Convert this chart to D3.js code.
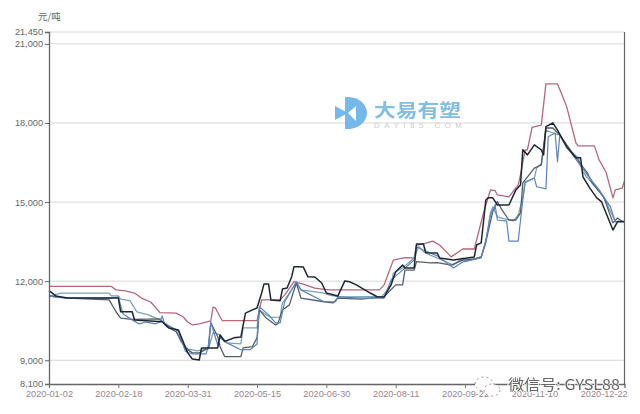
<!DOCTYPE html>
<html><head><meta charset="utf-8">
<script src="https://cdnjs.cloudflare.com/ajax/libs/d3/7.8.5/d3.min.js"></script>
<style>html,body{margin:0;padding:0;background:#fff}svg{display:block}</style>
</head><body><svg id="c" width="640" height="414"></svg>
<script>
const tickDays=[0,30,60,90,120,150,180,210,240];
const tickDates=["2020-01-02","2020-02-18","2020-03-31","2020-05-15","2020-06-30","2020-08-11","2020-09-22","2020-11-10","2020-12-22"];
const yTicks=[8100,9000,12000,15000,18000,21000,21450];
const unitLabel="元/吨";
const seriesRed=[[0,11800],[27,11800],[29,11670],[33,11630],[37,11550],[40,11360],[44,11210],[48,10810],[55,10790],[58,10650],[60,10450],[62,10340],[65,10380],[70,10490],[71,11020],[72,10980],[74,10650],[75,10500],[90,10500],[91,10910],[92,11290],[100,11290],[102,11480],[106,11980],[110,11890],[115,11740],[121,11670],[143,11670],[145,11860],[149,12800],[154,12890],[158,12880],[159,13370],[162,13410],[166,13520],[169,13370],[174,12920],[179,13220],[184,13220],[188,14590],[191,15460],[193,15430],[194,15270],[199,15200],[203,15650],[204,16030],[206,16980],[207,16980],[209,17830],[213,17920],[215,19480],[220,19480],[222,19060],[224,18610],[228,17240],[229,17130],[236,17130],[238,16600],[241,16140],[244,15160],[245,15460],[248,15530],[249,15800]];
const seriesTeal=[[0,11410],[5,11550],[26,11550],[27,11440],[30,11440],[31,11320],[35,11260],[38,10840],[43,10720],[48,10530],[50,10410],[55,10150],[57,9710],[60,9430],[64,9360],[69,9430],[71,10050],[74,9960],[77,9660],[83,9620],[84,10230],[90,10230],[91,10910],[94,10720],[96,10630],[100,10640],[101,11170],[104,11550],[107,11940],[109,11670],[119,11550],[121,11480],[126,11400],[140,11410],[144,11410],[148,11860],[149,12310],[153,12500],[158,12880],[160,13310],[162,13120],[165,12990],[169,12840],[175,12610],[179,12880],[180,12740],[187,12920],[189,13450],[191,14590],[192,14810],[194,14440],[197,14360],[201,14290],[203,14510],[205,15160],[206,15770],[210,15910],[211,16290],[213,16450],[215,17730],[218,17620],[221,17540],[224,17050],[229,16680],[231,16150],[233,15910],[238,15460],[241,15020],[245,14260],[249,14260]];
const seriesGray=[[0,11440],[8,11360],[26,11290],[29,10840],[31,10600],[36,10550],[48,10570],[51,10270],[55,10080],[59,9470],[62,9280],[65,9280],[69,9470],[70,10420],[73,9890],[74,9520],[76,9140],[83,9140],[84,9470],[88,9520],[90,9850],[91,10910],[94,10600],[98,10340],[99,10380],[101,10910],[104,11100],[107,11930],[109,11360],[119,11220],[123,11180],[125,11360],[135,11320],[145,11410],[150,11860],[153,11860],[154,12420],[158,12420],[159,12740],[165,12690],[168,12700],[174,12610],[179,12800],[184,12840],[187,12920],[189,13500],[192,14640],[194,15020],[196,14700],[199,14320],[202,14320],[204,14590],[205,15730],[210,16290],[213,16410],[215,17810],[218,17810],[221,17540],[228,16680],[233,16100],[235,15720],[240,15190],[244,14210],[246,14400],[248,14260],[249,14260]];
const seriesBlue=[[0,11480],[2,11400],[8,11360],[26,11360],[30,11400],[32,10760],[36,10530],[39,10380],[42,10450],[46,10380],[48,10450],[49,10680],[50,10380],[56,10110],[59,9340],[62,9240],[68,9240],[69,9590],[70,10460],[71,10150],[73,9590],[74,9850],[77,9660],[83,9400],[87,9400],[90,9620],[91,11030],[95,10720],[98,10420],[100,10420],[102,11220],[107,11980],[109,11670],[119,11220],[124,11220],[125,11410],[135,11360],[145,11360],[148,12050],[153,12420],[158,12800],[159,13300],[162,13180],[168,12960],[175,12500],[179,12730],[187,12880],[189,13560],[191,14510],[193,14890],[194,14320],[198,14280],[199,13520],[203,13520],[205,15090],[206,15730],[210,15910],[211,15580],[215,15500],[216,17480],[219,17620],[220,16530],[221,17540],[225,16980],[232,16140],[238,15460],[243,14810],[245,14250],[249,14250]];
const seriesBlack=[[0,11640],[3,11440],[6,11390],[8,11360],[30,11360],[31,10840],[36,10840],[37,10530],[49,10460],[52,10220],[56,10150],[60,9280],[62,9050],[65,9010],[66,9470],[73,9470],[74,9960],[76,9710],[80,9850],[83,9880],[85,10790],[88,10910],[90,10980],[92,11550],[93,11890],[95,11890],[96,11290],[100,11260],[101,11700],[103,11740],[105,12170],[106,12550],[108,12550],[110,12540],[112,12170],[115,12160],[118,11930],[120,11550],[125,11440],[128,12010],[130,11980],[133,11860],[139,11550],[142,11410],[145,11400],[148,11860],[150,12360],[153,12610],[154,12500],[158,12500],[159,13410],[162,13410],[163,13080],[168,13070],[169,12880],[175,12800],[184,12920],[185,13370],[187,13450],[189,15080],[190,15160],[192,15160],[194,14890],[199,14890],[202,15460],[204,15650],[205,16980],[207,16790],[210,17170],[213,16980],[214,16790],[215,17860],[218,18000],[220,17730],[224,17100],[228,16680],[230,16680],[231,15960],[234,15530],[237,15160],[239,15020],[244,13940],[246,14260],[249,14260]];
const lineSets=[[seriesRed,"#b4687c",1.3],[seriesTeal,"#7ba3b2",1.3],[seriesGray,"#555f6b",1.3],[seriesBlue,"#5c84bd",1.2],[seriesBlack,"#1f2733",1.5]];

const L=49,R=624.5,T=32,B=384;
const svg=d3.select("#c");
const x=d3.scaleLinear().domain([0,249]).range([L,R]);
const y=d3.scaleLinear().domain([8100,21450]).range([B,T]);
const defs=svg.append("defs");
defs.append("filter").attr("id","soft").attr("x","-5%").attr("y","-5%").attr("width","110%").attr("height","110%")
  .append("feGaussianBlur").attr("stdDeviation",0.4);
const txtFont="'Liberation Sans',Arial,sans-serif";

// grid
svg.append("g").selectAll("line").data(yTicks.filter(d=>d!==8100)).join("line")
  .attr("x1",L).attr("x2",R).attr("y1",d=>y(d)).attr("y2",d=>y(d))
  .attr("stroke","#d8d8da").attr("stroke-width",1);

// logo watermark
const logo=svg.append("g").attr("filter","url(#soft)");
logo.append("path").attr("fill","#74b8ec").attr("d","M345,97 C358,96 367,104 367,113 C367,122 358,130 345,129 Z");
logo.append("path").attr("fill","#fff").attr("d","M348,113 L356,106 L356,121 Z");
logo.append("path").attr("fill","#74b8ec").attr("d","M335,106 L348,113 L335,120 Z");
logo.append("text").attr("x",374).attr("y",117).attr("font-family","'Noto Sans CJK SC'").attr("font-weight",700)
  .attr("font-size",18).attr("fill","#82bee6").attr("textLength",87).attr("lengthAdjust","spacingAndGlyphs").text("大易有塑");
logo.append("text").attr("x",374).attr("y",128).attr("font-family",txtFont)
  .attr("font-size",8).attr("fill","#c8ccd0").attr("textLength",88).text("DAYI85.COM");

// series
const line=d3.line().x(d=>x(d[0])).y(d=>y(d[1]));
svg.append("g").attr("filter","url(#soft)").selectAll("path").data(lineSets).join("path")
  .attr("fill","none").attr("stroke",d=>d[1]).attr("stroke-width",d=>d[2])
  .attr("stroke-linejoin","round").attr("d",d=>line(d[0]));

// axes
const yAxis=d3.axisLeft(y).tickValues(yTicks).tickFormat(d3.format(",")).tickSize(4).tickPadding(2);
const gy=svg.append("g").attr("transform",`translate(${L},0)`).call(yAxis);
gy.selectAll("text").attr("font-family",txtFont).attr("font-size",9.2).attr("fill","#666");
gy.selectAll("line").attr("stroke","#666");
gy.select(".domain").attr("stroke","#666").attr("stroke-width",1.3);
const xAxis=d3.axisBottom(x).tickValues(tickDays).tickFormat((d,i)=>tickDates[i]).tickSize(4).tickPadding(2);
const gx=svg.append("g").attr("transform",`translate(0,${B})`).call(xAxis);
gx.selectAll("text").attr("font-family",txtFont).attr("font-size",9.2).attr("fill","#9a8592");
gx.selectAll("line").attr("stroke","#777");
gx.select(".domain").attr("stroke","#666").attr("stroke-width",1.3);
svg.append("line").attr("x1",R).attr("x2",R).attr("y1",T).attr("y2",B).attr("stroke","#666").attr("stroke-width",1.2);

svg.append("text").attr("x",38).attr("y",20).attr("font-family","'Noto Sans CJK SC'").attr("font-size",9.5)
  .attr("fill","#666").text(unitLabel);

// bottom-right account mark
const mark=svg.append("g").attr("filter","url(#soft)");
mark.append("ellipse").attr("cx",484).attr("cy",384).attr("rx",9).attr("ry",7)
  .attr("fill","#fff").attr("stroke","#888").attr("stroke-width",0.9).attr("stroke-dasharray","2 3");
mark.append("ellipse").attr("cx",492).attr("cy",390).attr("rx",8).attr("ry",6)
  .attr("fill","#fff").attr("stroke","#888").attr("stroke-width",0.9).attr("stroke-dasharray","2 3");
mark.append("text").attr("x",508).attr("y",390).attr("font-family","'Noto Sans CJK SC'")
  .attr("font-size",15).attr("fill","#666").attr("stroke","#fff").attr("stroke-width",1.5).attr("paint-order","stroke")
  .attr("textLength",112).attr("lengthAdjust","spacingAndGlyphs").text("微信号: GYSL88");
</script></body></html>
